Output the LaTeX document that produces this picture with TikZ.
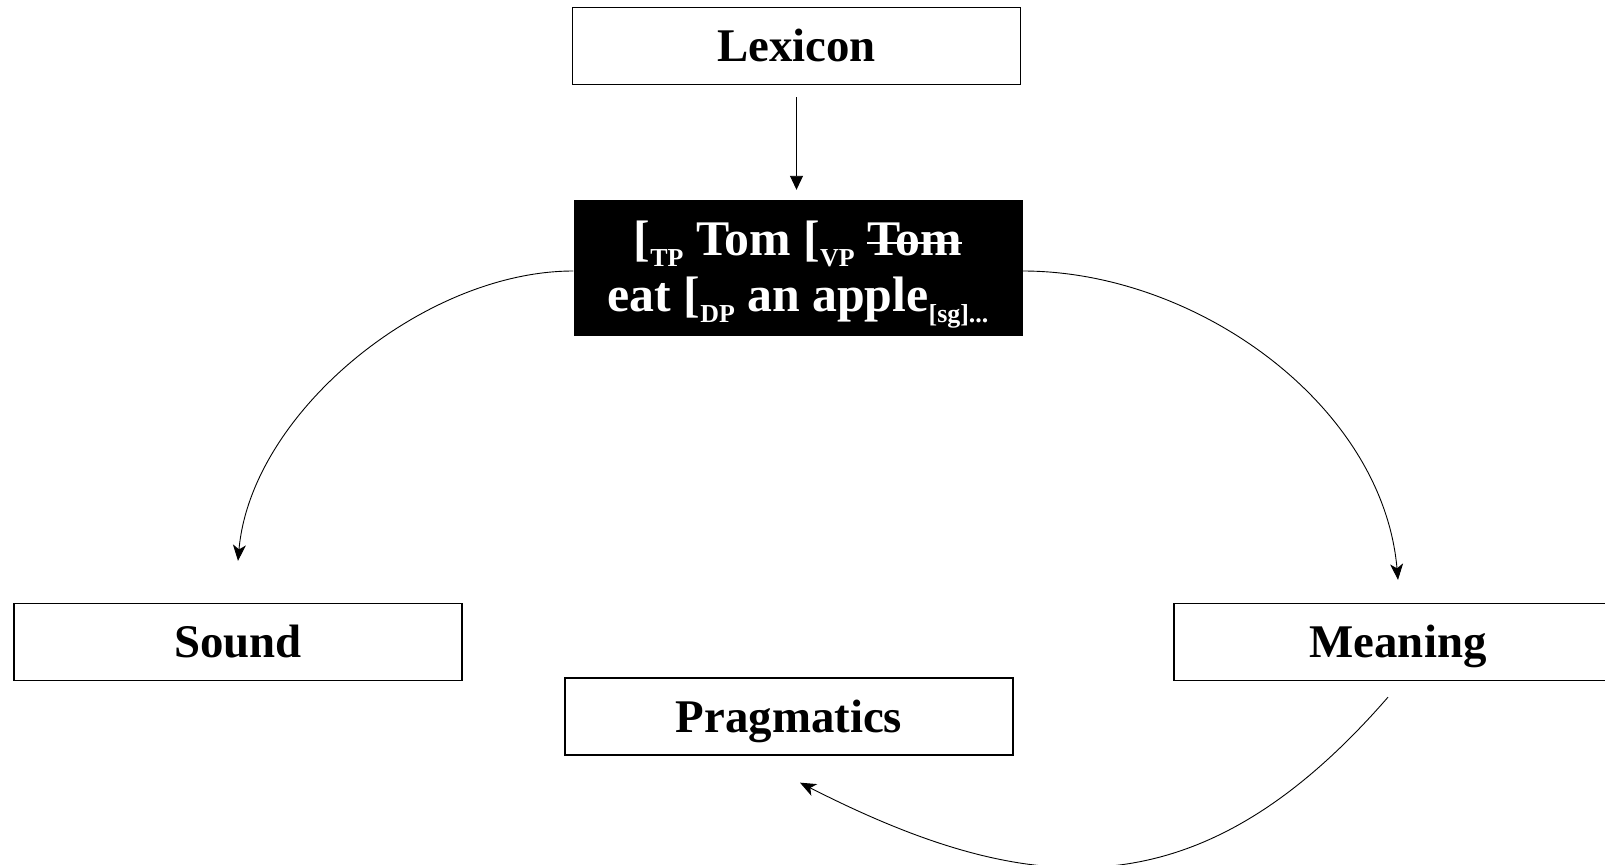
\documentclass[tikz,border=0pt]{standalone}
\usepackage{fontspec}
\setmainfont{Liberation Serif}
\usetikzlibrary{arrows.meta}

% lowered small label for bracket subscripts (takes no vertical room)
\newcommand\lsub[1]{\raisebox{-0.22em}[0pt][0pt]{\fontsize{26}{26}\selectfont #1}}
% word with a horizontal line through it
\newcommand\struckout[1]{\setbox0\hbox{#1}\rlap{\rule[0.22em]{\wd0}{0.055em}}\box0}

\begin{document}
\begin{tikzpicture}[x=1bp,y=1bp,
  box/.style={draw, line width=1.3bp, minimum width=448bp, minimum height=77bp,
    inner sep=0pt, text height=42bp, text depth=11bp,
    font=\fontsize{47}{56}\selectfont\bfseries},
  synbox/.style={fill=black, text=white, minimum width=449bp, minimum height=136bp,
    inner sep=0pt, align=center, font=\fontsize{50}{56}\selectfont\bfseries},
  conn/.style={line width=0.9bp},
  tip/.style={-{Stealth[length=16bp,width=13bp,inset=4.5bp]}}]
\useasboundingbox (0,0) rectangle (1605,-864);
\clip (0,0) rectangle (1605,-864);

\node[box] (lex) at (796.5,-46) {Lexicon};
\node[synbox] (syn) at (798,-268)
  {\rule{0pt}{41bp}[\lsub{TP} Tom [\lsub{VP} \struckout{Tom}\\
   eat [\lsub{DP} an apple\lsub{[sg]...}};
\node[box] (sound) at (238,-642) {Sound};
\node[box] (meaning) at (1398,-642) {Meaning};
\node[box] (prag) at (789,-716.5) {Pragmatics};

\draw[conn, -{Triangle[length=14bp,width=13bp]}, shorten <=12bp, shorten >=10bp]
  (lex.south) -- (lex.south |- syn.north);
\draw[conn, tip] ([yshift=-3bp]syn.west) to[out=180,in=85,looseness=0.86]
  ([yshift=42bp]sound.north);
\draw[conn, tip] ([yshift=-3bp]syn.east) to[out=0,in=95,looseness=0.92]
  ([yshift=23bp]meaning.north);
\draw[conn, tip] ([xshift=-10bp,yshift=-16bp]meaning.south)
  to[out=-131,in=-27,out distance=285bp,in distance=262bp]
  ([xshift=11bp,yshift=-27bp]prag.south);
\end{tikzpicture}
\end{document}
